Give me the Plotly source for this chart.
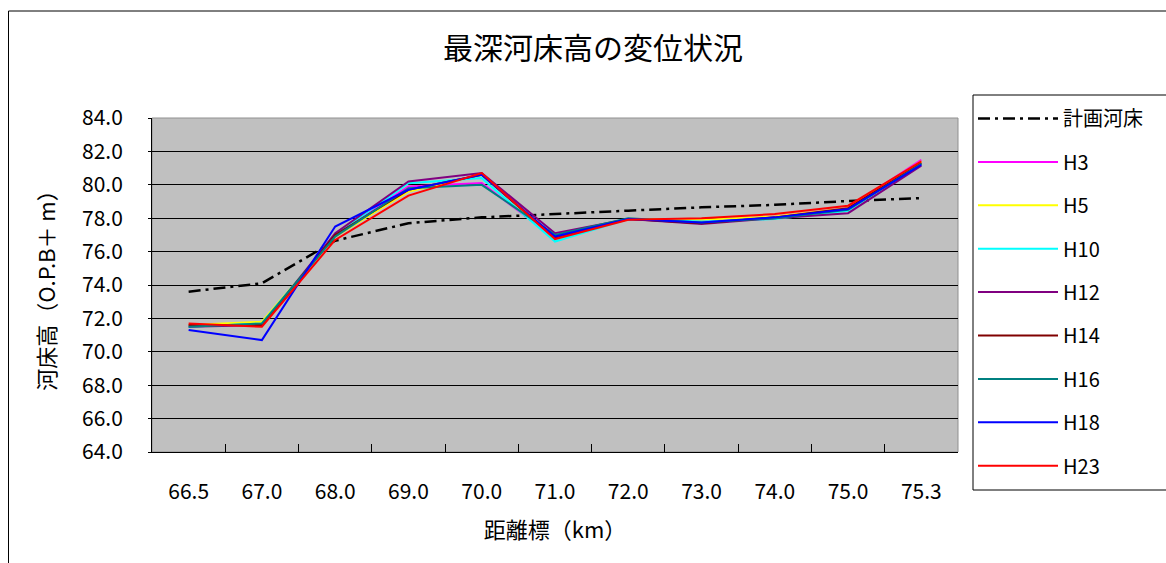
import plotly.graph_objects as go

categories = ["66.5", "67.0", "68.0", "69.0", "70.0", "71.0", "72.0", "73.0", "74.0", "75.0", "75.3"]

plan = [73.6, 74.1, 76.65, 77.7, 78.05, 78.27, 78.45, 78.65, 78.8, 79.03, 79.2]
h3 = [71.6, 71.6, 77.0, 79.9, 80.1, 76.8, 77.95, 77.85, 78.1, 78.6, 81.5]
h5 = [71.6, 71.8, 76.9, 79.6, 80.6, 76.8, 77.95, 77.9, 78.1, 78.6, 81.4]
h10 = [71.5, 71.7, 77.0, 80.1, 80.4, 76.6, 77.95, 77.8, 77.95, 78.45, 81.3]
h12 = [71.5, 71.6, 77.1, 80.2, 80.7, 77.1, 77.95, 77.65, 78.0, 78.3, 81.15]
h14 = [71.6, 71.6, 77.0, 79.7, 80.6, 76.8, 77.95, 77.7, 78.05, 78.6, 81.3]
h16 = [71.5, 71.7, 76.9, 79.8, 80.0, 77.0, 78.0, 77.75, 78.0, 78.5, 81.25]
h18 = [71.3, 70.7, 77.5, 79.7, 80.6, 76.9, 77.95, 77.75, 78.05, 78.55, 81.2]
h23 = [71.7, 71.5, 76.7, 79.35, 80.7, 76.75, 77.9, 78.0, 78.25, 78.75, 81.4]

series = [
    ("H3", h3, "#FF00FF"),
    ("H5", h5, "#FFFF00"),
    ("H10", h10, "#00FFFF"),
    ("H12", h12, "#800080"),
    ("H14", h14, "#800000"),
    ("H16", h16, "#008080"),
    ("H18", h18, "#0000FF"),
    ("H23", h23, "#FF0000"),
]

y_ticks = [64, 66, 68, 70, 72, 74, 76, 78, 80, 82, 84]

FONT = "Noto Sans CJK JP, Noto Sans, sans-serif"

fig = go.Figure()
fig.add_trace(go.Scatter(
    x=categories, y=plan, mode="lines", name="計画河床",
    legendgroup="plan",
    line=dict(color="black", width=2.5, dash="12px,5px,3px,5px"),
))
for name, vals, col in series:
    fig.add_trace(go.Scatter(
        x=categories, y=vals, mode="lines", name=name,
        legendgroup=name,
        line=dict(color=col, width=2),
    ))

W, PL, PR, PT, PB = 806, 152, 958, 118, 452

def px(x):
    return (x - PL) / W

def py(y):
    return (PB - y) / (PB - PT)

fig.update_layout(
    width=1166, height=563,
    margin=dict(l=152, r=208, t=118, b=111),
    paper_bgcolor="white",
    plot_bgcolor="#C0C0C0",
    font=dict(family=FONT, color="black", size=19),
    title=dict(text="最深河床高の変位状況", x=593 / 1166, xref="container",
               y=1 - 48 / 563, yref="container", xanchor="center", yanchor="middle",
               font=dict(size=30, family=FONT)),
    showlegend=True,
    legend=dict(
        x=px(973), y=py(99), xanchor="left", yanchor="top",
        borderwidth=0, bgcolor="rgba(0,0,0,0)",
        font=dict(size=20, family=FONT),
        tracegroupgap=14.4, itemwidth=80, maxheight=500,
    ),
    shapes=[
        dict(type="rect", xref="paper", yref="paper", x0=0, x1=1, y0=0, y1=1,
             line=dict(color="#909090", width=1), layer="below"),
        dict(type="rect", xref="paper", yref="paper",
             x0=px(8.5), x1=1.4, y0=-0.6, y1=py(11),
             line=dict(color="black", width=1), fillcolor="rgba(0,0,0,0)", layer="below"),
        dict(type="rect", xref="paper", yref="paper",
             x0=px(973), x1=px(1200), y0=py(490), y1=py(95),
             line=dict(color="black", width=1), fillcolor="white", layer="below"),
    ],
)

fig.update_xaxes(
    type="category", categoryorder="array", categoryarray=categories,
    range=[-0.5, len(categories) - 0.5],
    showgrid=False, showline=True, linecolor="black", linewidth=1,
    ticks="inside", tickson="boundaries", ticklen=8, tickcolor="black",
    ticklabelstandoff=21,
    tickfont=dict(size=21, family=FONT),
    title=dict(text="距離標（km）", font=dict(size=22, family=FONT), standoff=18),
)
fig.update_yaxes(
    range=[64, 84], tickvals=y_ticks, tickformat=".1f",
    showgrid=True, gridcolor="black", gridwidth=1,
    showline=True, linecolor="black", linewidth=1,
    ticks="outside", ticklen=3, tickcolor="black",
    ticklabelstandoff=21,
    tickfont=dict(size=21, family=FONT),
    zeroline=False,
    title=dict(text="河床高（O.P.B＋ m）", font=dict(size=22, family=FONT), standoff=20),
)

fig.write_html("out.html", config={"displayModeBar": False},
               post_script="document.body.style.margin='0';")
